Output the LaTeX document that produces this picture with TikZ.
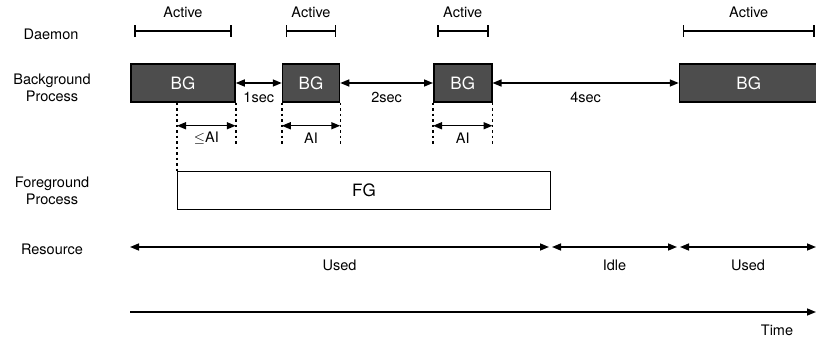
\documentclass[tikz,border=0pt]{standalone}
\usepackage{fontspec}
\setmainfont{TeX Gyre Heros}
\usetikzlibrary{arrows.meta}
\definecolor{bggray}{RGB}{77,77,77}

\begin{document}
\begin{tikzpicture}[x=1pt,y=-1pt,>={Triangle[length=9pt,width=7pt]},
	font=\fontsize{14.5}{17}\selectfont,
	bgbox/.style={draw=black,fill=bggray,text=white,line width=1.5pt,minimum height=38pt,inner sep=0pt,font=\fontsize{17}{19}\selectfont},
	fgbox/.style={draw=black,line width=1pt,minimum height=37pt,minimum width=373pt,inner sep=0pt,font=\fontsize{17}{19}\selectfont},
	lbl/.style={align=center,inner sep=0pt},
	active/.style={line width=1.5pt,{Bar[width=12pt]}-{Bar[width=12pt]}},
	guide/.style={line width=1.5pt,dash pattern=on 2.5pt off 3pt}]

\useasboundingbox (0,0) rectangle (816,339);

% row labels
\node[lbl] (daemon) at (51,34) {Daemon};
\node[lbl] (bgproc) at (52,88) {Background\\Process};
\node[lbl] (fgproc) at (52,191) {Foreground\\Process};
\node[lbl] (res) at (52,249) {Resource};

% processes
\node[bgbox,minimum width=104pt] (bg1) at (183,83) {BG};
\node[bgbox,minimum width=57pt] (bg2) at (311,83) {BG};
\node[bgbox,minimum width=58pt] (bg3) at (462.75,83) {BG};
\node[bgbox,minimum width=138.5pt] (bg4) at (748.75,83) {BG};
\node[fgbox] (fg) at (364,190.5) {FG};

% daemon
\foreach \b in {bg1,bg2,bg3,bg4}
	\draw[active] ([shift={(4,-32)}]\b.north west) -- node[lbl,yshift=19pt]{Active} ([shift={(-4,-32)}]\b.north east);

\begin{scope}[line width=1.5pt,<->]
\draw (bg1.east) -- node[lbl,yshift=-14pt]{1sec} (bg2.west);
\draw (bg2.east) -- node[lbl,yshift=-14pt]{2sec} (bg3.west);
\draw (bg3.east) -- node[lbl,yshift=-14pt]{4sec} (bg4.west);
\end{scope}

% AI
\coordinate (a1l) at ([yshift=-23pt]fg.north west |- bg1.south);
\coordinate (a1r) at ([yshift=-23pt]bg1.south east);
\draw[guide] (fg.north west |- bg1.south) -- (fg.north west);
\draw[guide] (bg1.south east) -- ([yshift=-43pt]bg1.south east);
\draw[line width=1.5pt,<->] (a1l) -- node[lbl,yshift=-12pt]{$\leq$AI} (a1r);
\foreach \b in {bg2,bg3}{
	\draw[guide] (\b.south west) -- ([yshift=-43pt]\b.south west);
	\draw[guide] (\b.south east) -- ([yshift=-43pt]\b.south east);
	\draw[line width=1.5pt,<->] ([yshift=-23pt]\b.south west) -- node[lbl,yshift=-12pt]{AI} ([yshift=-23pt]\b.south east);
}

% resource
\coordinate (r0) at (130,247);
\coordinate (r1) at (549,247);
\coordinate (r2) at (552,247);
\coordinate (r3) at (677,247);
\coordinate (r4) at (680,247);
\coordinate (r5) at (816,247);
\begin{scope}[line width=1.5pt,<->]
\draw (r0) -- node[lbl,yshift=-18pt]{Used} (r1);
\draw (r2) -- node[lbl,yshift=-18pt]{Idle} (r3);
\draw (r4) -- node[lbl,yshift=-18pt]{Used} (r5);
\end{scope}

% time
\coordinate (t0) at (130,312);
\coordinate (t1) at (816,312);
\draw[line width=1.5pt,->] (t0) -- (t1);
\node[lbl] (time) at (777,330) {Time};

\end{tikzpicture}
\end{document}
